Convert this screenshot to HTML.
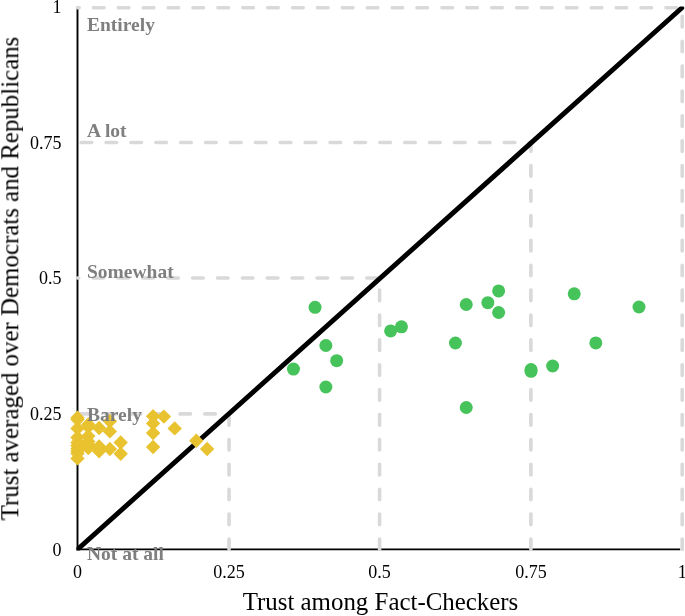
<!DOCTYPE html>
<html><head><meta charset="utf-8"><style>
html,body{margin:0;padding:0;background:#fff;width:685px;height:616px;overflow:hidden}
svg{display:block}
text{will-change:transform}
text{font-family:"Liberation Serif",serif}
</style></head><body>
<svg width="685" height="616" viewBox="0 0 685 616">
<rect width="685" height="616" fill="#fff"/>
<g fill="none" stroke="#000" stroke-width="1.9">
<line x1="77.5" y1="6.7" x2="77.5" y2="549.4"/>
<line x1="76.55" y1="549.4" x2="680.2" y2="549.4"/>
</g>
<g fill="none" stroke="#d9d9d9" stroke-width="3.6" stroke-linecap="round" stroke-linejoin="round" stroke-dasharray="10.6 14.29" stroke-dashoffset="0.2">
<polyline points="229.05,549.40 229.05,413.90 77.50,413.90"/><polyline points="379.60,549.40 379.60,278.00 77.50,278.00"/><polyline points="530.90,549.40 530.90,142.50 77.50,142.50"/><polyline points="682.20,549.40 682.20,7.70 77.50,7.70"/>
</g>
<clipPath id="pc"><rect x="76.5" y="6.6" width="620" height="544"/></clipPath>
<line x1="76.5" y1="550.3" x2="681.7" y2="8.0" stroke="#000" stroke-width="4.9" stroke-linecap="round" clip-path="url(#pc)"/>
<g fill="#46c35a"><circle cx="293.46" cy="369.10" r="6.5"/><circle cx="315.06" cy="307.30" r="6.5"/><circle cx="325.86" cy="345.50" r="6.5"/><circle cx="336.66" cy="360.70" r="6.5"/><circle cx="325.86" cy="387.00" r="6.5"/><circle cx="390.65" cy="330.90" r="6.5"/><circle cx="401.45" cy="326.80" r="6.5"/><circle cx="455.44" cy="343.00" r="6.5"/><circle cx="466.24" cy="304.50" r="6.5"/><circle cx="466.24" cy="407.50" r="6.5"/><circle cx="487.83" cy="302.70" r="6.5"/><circle cx="498.63" cy="290.90" r="6.5"/><circle cx="498.63" cy="312.50" r="6.5"/><circle cx="531.02" cy="369.50" r="6.5"/><circle cx="531.02" cy="371.30" r="6.5"/><circle cx="552.62" cy="366.00" r="6.5"/><circle cx="574.22" cy="293.80" r="6.5"/><circle cx="595.81" cy="342.90" r="6.5"/><circle cx="639.01" cy="307.00" r="6.5"/></g>
<g fill="#e9c230"><path d="M77.50 410.60l7.2 7.2l-7.2 7.2l-7.2 -7.2z"/><path d="M77.50 412.30l7.2 7.2l-7.2 7.2l-7.2 -7.2z"/><path d="M77.50 421.20l7.2 7.2l-7.2 7.2l-7.2 -7.2z"/><path d="M77.50 430.30l7.2 7.2l-7.2 7.2l-7.2 -7.2z"/><path d="M77.50 435.30l7.2 7.2l-7.2 7.2l-7.2 -7.2z"/><path d="M77.50 438.30l7.2 7.2l-7.2 7.2l-7.2 -7.2z"/><path d="M77.50 441.20l7.2 7.2l-7.2 7.2l-7.2 -7.2z"/><path d="M77.50 443.80l7.2 7.2l-7.2 7.2l-7.2 -7.2z"/><path d="M77.50 446.30l7.2 7.2l-7.2 7.2l-7.2 -7.2z"/><path d="M77.50 451.20l7.2 7.2l-7.2 7.2l-7.2 -7.2z"/><path d="M88.30 417.30l7.2 7.2l-7.2 7.2l-7.2 -7.2z"/><path d="M88.30 419.80l7.2 7.2l-7.2 7.2l-7.2 -7.2z"/><path d="M88.30 428.90l7.2 7.2l-7.2 7.2l-7.2 -7.2z"/><path d="M88.30 434.30l7.2 7.2l-7.2 7.2l-7.2 -7.2z"/><path d="M88.30 437.30l7.2 7.2l-7.2 7.2l-7.2 -7.2z"/><path d="M88.30 440.80l7.2 7.2l-7.2 7.2l-7.2 -7.2z"/><path d="M99.10 420.80l7.2 7.2l-7.2 7.2l-7.2 -7.2z"/><path d="M99.10 439.20l7.2 7.2l-7.2 7.2l-7.2 -7.2z"/><path d="M99.10 444.00l7.2 7.2l-7.2 7.2l-7.2 -7.2z"/><path d="M109.89 414.10l7.2 7.2l-7.2 7.2l-7.2 -7.2z"/><path d="M109.89 424.20l7.2 7.2l-7.2 7.2l-7.2 -7.2z"/><path d="M109.89 441.80l7.2 7.2l-7.2 7.2l-7.2 -7.2z"/><path d="M120.69 435.30l7.2 7.2l-7.2 7.2l-7.2 -7.2z"/><path d="M120.69 446.50l7.2 7.2l-7.2 7.2l-7.2 -7.2z"/><path d="M153.09 409.10l7.2 7.2l-7.2 7.2l-7.2 -7.2z"/><path d="M153.09 416.20l7.2 7.2l-7.2 7.2l-7.2 -7.2z"/><path d="M153.09 425.80l7.2 7.2l-7.2 7.2l-7.2 -7.2z"/><path d="M153.09 439.80l7.2 7.2l-7.2 7.2l-7.2 -7.2z"/><path d="M163.89 409.40l7.2 7.2l-7.2 7.2l-7.2 -7.2z"/><path d="M174.68 421.20l7.2 7.2l-7.2 7.2l-7.2 -7.2z"/><path d="M196.28 433.50l7.2 7.2l-7.2 7.2l-7.2 -7.2z"/><path d="M207.08 441.80l7.2 7.2l-7.2 7.2l-7.2 -7.2z"/></g>
<g font-size="18" fill="#000"><text x="77.50" y="578" text-anchor="middle">0</text><text x="229.05" y="578" text-anchor="middle">0.25</text><text x="379.60" y="578" text-anchor="middle">0.5</text><text x="530.90" y="578" text-anchor="middle">0.75</text><text x="682.20" y="578" text-anchor="middle">1</text><text x="61.5" y="555.60" text-anchor="end">0</text><text x="61.5" y="420.10" text-anchor="end">0.25</text><text x="61.5" y="284.20" text-anchor="end">0.5</text><text x="61.5" y="148.70" text-anchor="end">0.75</text><text x="61.5" y="13.00" text-anchor="end">1</text></g>
<g font-size="19.5" font-weight="bold" fill="#7f7f7f">
<text x="87" y="31">Entirely</text>
<text x="87" y="137">A lot</text>
<text x="87" y="278.4">Somewhat</text>
<text x="87" y="420.7">Barely</text>
<text x="87" y="560">Not at all</text>
</g>
<text x="380.5" y="610" font-size="24.9" text-anchor="middle" fill="#000">Trust among Fact-Checkers</text>
<text transform="translate(18.3 278.5) rotate(-90)" x="0" y="0" font-size="24.9" text-anchor="middle" fill="#000">Trust averaged over Democrats and Republicans</text>
</svg>
</body></html>
